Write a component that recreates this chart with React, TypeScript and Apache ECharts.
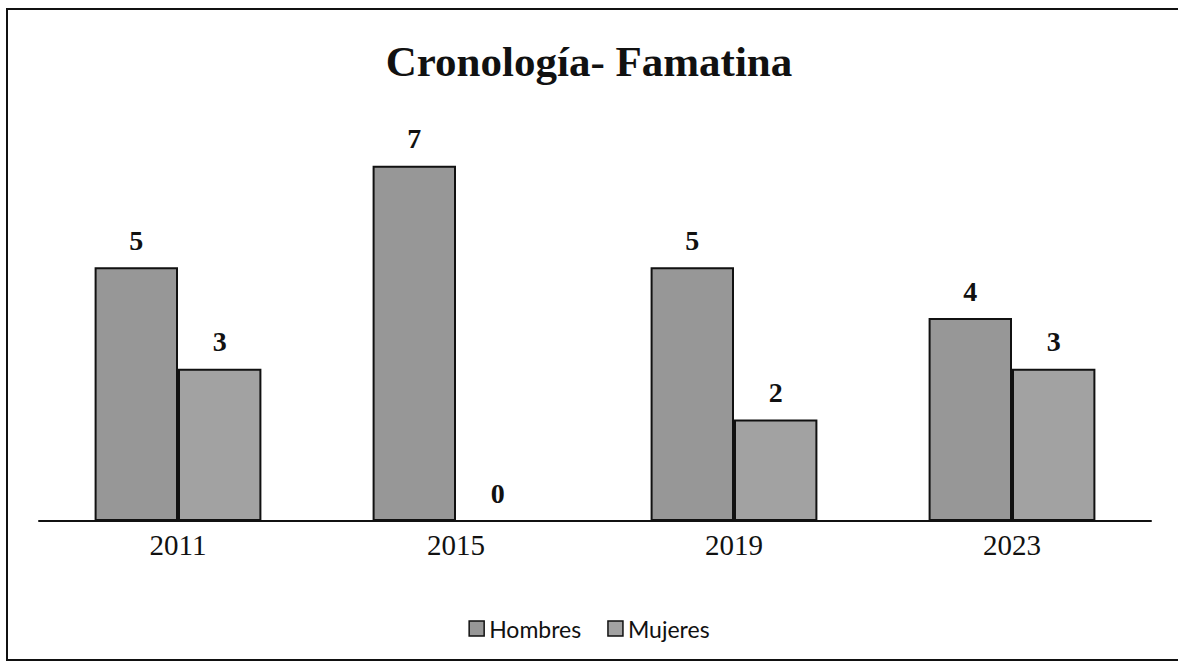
import React, { useEffect, useRef } from "react";
import * as echarts from "echarts";

const categories = ["2011", "2015", "2019", "2023"];
const hombres = [5, 7, 5, 4];
const mujeres = [3, 0, 2, 3];
const seriesNames = ["Hombres", "Mujeres"];
const titleText = "Cronología- Famatina";

export default function App() {
  const ref = useRef<HTMLDivElement>(null);
  useEffect(() => {
    if (!ref.current) return;
    const chart = echarts.init(ref.current, null, { renderer: "svg" });
    const labelStyle = {
      show: true,
      position: "top" as const,
      distance: 13,
      fontFamily: "Liberation Serif",
      fontWeight: "bold" as const,
      fontSize: 28,
      color: "#111",
    };
    chart.setOption({
      animation: false,
      backgroundColor: "#fff",
      title: {
        text: titleText,
        left: "center",
        top: 35,
        textStyle: {
          fontFamily: "Liberation Serif",
          fontWeight: "bold",
          fontSize: 43,
          color: "#111",
        },
      },
      legend: {
        data: seriesNames,
        top: 612,
        left: "center",
        icon: "rect",
        itemWidth: 15,
        itemHeight: 15,
        itemGap: 26,
        textStyle: { fontFamily: "Lato", fontSize: 23, color: "#111" },
        itemStyle: { borderColor: "#111", borderWidth: 1.5 },
      },
      grid: { left: 39, right: 27, top: 115, bottom: 141 },
      xAxis: {
        type: "category",
        data: categories,
        axisLine: { lineStyle: { color: "#111", width: 2 } },
        axisTick: { show: false },
        axisLabel: {
          fontFamily: "Liberation Serif",
          fontSize: 29,
          color: "#111",
          margin: 9,
        },
      },
      yAxis: {
        type: "value",
        min: 0,
        max: 8,
        show: false,
        splitLine: { show: false },
      },
      series: [
        {
          name: seriesNames[0],
          type: "bar",
          data: hombres,
          barGap: "0%",
          barCategoryGap: "40%",
          itemStyle: { color: "#979797", borderColor: "#111", borderWidth: 2 },
          label: labelStyle,
        },
        {
          name: seriesNames[1],
          type: "bar",
          data: mujeres,
          barGap: "0%",
          barCategoryGap: "40%",
          itemStyle: { color: "#a2a2a2", borderColor: "#111", borderWidth: 2 },
          label: labelStyle,
        },
      ],
      graphic: [
        {
          type: "polyline",
          shape: { points: [[1178, 9], [7, 9], [7, 660], [1178, 660]] },
          style: { fill: "none", stroke: "#111", lineWidth: 2 },
          silent: true,
        },
      ],
    });
    return () => chart.dispose();
  }, []);
  return (
    <div
      ref={ref}
      style={{ position: "fixed", left: 0, top: 0, width: 1178, height: 662 }}
    />
  );
}
